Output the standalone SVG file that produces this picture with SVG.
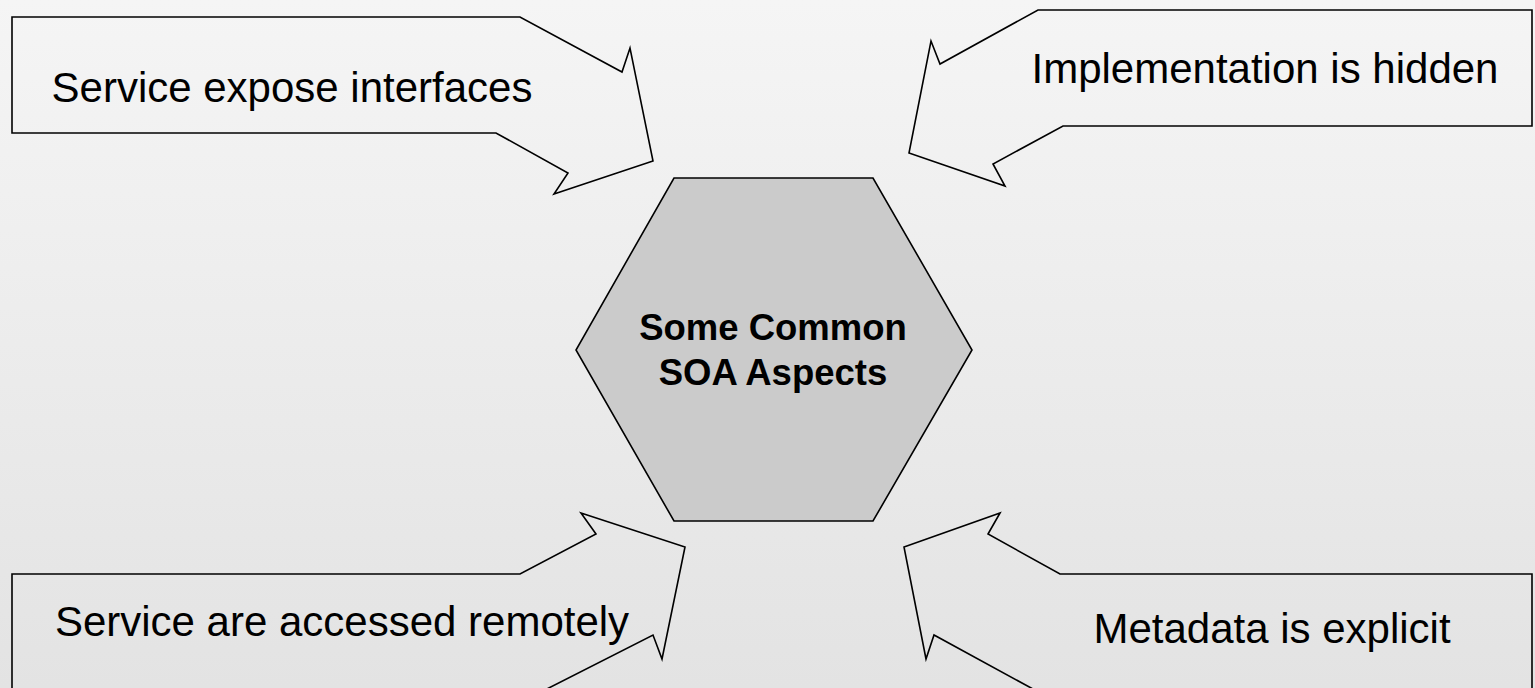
<svg xmlns="http://www.w3.org/2000/svg" width="1535" height="688" viewBox="0 0 1535 688">
<defs>
<linearGradient id="bg" x1="0" y1="0" x2="0" y2="1">
<stop offset="0" stop-color="#f5f5f5"/>
<stop offset="1" stop-color="#e3e3e3"/>
</linearGradient>
<style>
.arrow{fill:none;stroke:#000;stroke-width:1.6;stroke-linejoin:miter}
.lbl{font-family:"Liberation Sans",Arial,sans-serif;font-size:42px;fill:#000;text-anchor:middle}
.hex{fill:#cbcbcb;stroke:#000;stroke-width:1.6}
.title{font-family:"Liberation Sans",Arial,sans-serif;font-size:36.5px;font-weight:bold;fill:#000;text-anchor:middle}
</style>
</defs>
<rect width="1535" height="688" fill="url(#bg)"/>
<g id="connectors">
<g id="arrow-top-left">
<polygon class="arrow" points="12,17 520,17 622,72 630,48 653,161 554,194 568,173 496,133 12,133"/>
<text class="lbl" x="292" y="102">Service expose interfaces</text>
</g>
<g id="arrow-top-right">
<polygon class="arrow" points="1038,10 1532,10 1532,126 1063,126 993,164 1005,186 909,153 931,41 940,64"/>
<text class="lbl" x="1265" y="83">Implementation is hidden</text>
</g>
<g id="arrow-bottom-left">
<polygon class="arrow" points="12,574 520,574 596,534 581,513 685,547 662,659 653,635 535,695 12,695"/>
<text class="lbl" x="342" y="636">Service are accessed remotely</text>
</g>
<g id="arrow-bottom-right">
<polygon class="arrow" points="1000,513 988,534 1060,574 1532,574 1532,695 1044,695 934,635 926,659 904,547"/>
<text class="lbl" x="1272" y="643">Metadata is explicit</text>
</g>
</g>
<g id="node-center">
<polygon class="hex" points="674,178 873,178 972,350 873,521 674,521 576,350"/>
<text class="title" x="773" y="340">Some Common</text>
<text class="title" x="773" y="385">SOA Aspects</text>
</g>
</svg>
